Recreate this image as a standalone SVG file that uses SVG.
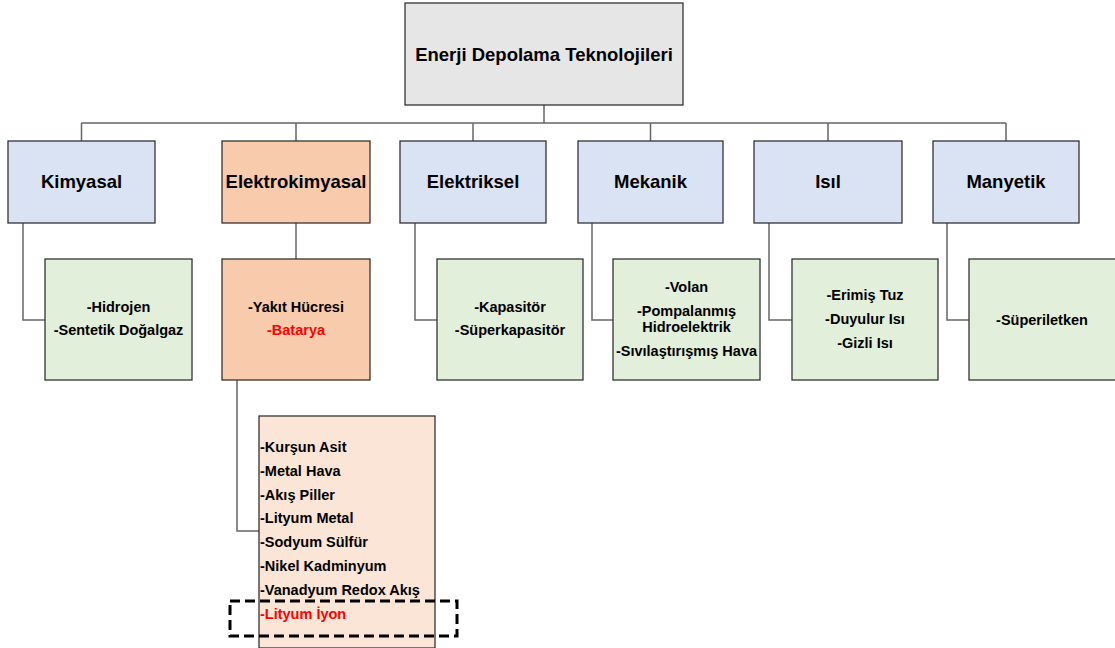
<svg xmlns="http://www.w3.org/2000/svg" width="1115" height="648" viewBox="0 0 1115 648">
<style>
.box{stroke:#333;stroke-width:1.3}
.root{fill:#e6e6e6}
.blue{fill:#dae3f3}
.orange{fill:#f8cbad}
.green{fill:#e2efda}
.peach{fill:#fbe5d6}
.conn{fill:none;stroke:#666;stroke-width:1.5}
text{font-family:"Liberation Sans",Arial,sans-serif;font-weight:bold;fill:#000}
.t1{font-size:18.5px;text-anchor:middle}
.t2{font-size:14.5px;text-anchor:middle}
.t3{font-size:14.5px}
.red{fill:#ff0000}
</style>
<rect width="1115" height="648" fill="#ffffff"/>
<g id="connectors">
<path class="conn" d="M544,105 V123 M81.5,123 H1006 M81.5,123 V141 M296,123 V141 M473,123 V141 M650.5,123 V141 M828,123 V141 M1006,123 V141"/>
<path class="conn" d="M23,223 V320 H45 M296,223 V259 M415,223 V320 H437 M592,223 V320 H613 M769,223 V320 H792 M947,223 V320 H969"/>
<path class="conn" d="M237,380 V531 H259"/>
</g>
<g id="root">
<rect class="box root" x="405" y="3" width="278" height="102"/>
<text class="t1" x="544" y="61">Enerji Depolama Teknolojileri</text>
</g>
<g id="kimyasal">
<rect class="box blue" x="8" y="141" width="147" height="82"/>
<text class="t1" x="81.5" y="188">Kimyasal</text>
</g>
<g id="elektrokimyasal">
<rect class="box orange" x="222" y="141" width="148" height="82"/>
<text class="t1" x="296" y="188">Elektrokimyasal</text>
</g>
<g id="elektriksel">
<rect class="box blue" x="400" y="141" width="146" height="82"/>
<text class="t1" x="473" y="188">Elektriksel</text>
</g>
<g id="mekanik">
<rect class="box blue" x="578" y="141" width="145" height="82"/>
<text class="t1" x="650.5" y="188">Mekanik</text>
</g>
<g id="isil">
<rect class="box blue" x="754" y="141" width="148" height="82"/>
<text class="t1" x="828" y="188">Isıl</text>
</g>
<g id="manyetik">
<rect class="box blue" x="933" y="141" width="146" height="82"/>
<text class="t1" x="1006" y="188">Manyetik</text>
</g>
<g id="kimyasal-list">
<rect class="box green" x="45" y="259" width="147" height="121"/>
<text class="t2" x="118.5" y="312">-Hidrojen</text>
<text class="t2" x="118.5" y="335">-Sentetik Doğalgaz</text>
</g>
<g id="elektrokimyasal-list">
<rect class="box orange" x="222" y="259" width="148" height="121"/>
<text class="t2" x="296" y="312">-Yakıt Hücresi</text>
<text class="t2 red" x="296" y="335">-Batarya</text>
</g>
<g id="elektriksel-list">
<rect class="box green" x="437" y="259" width="146" height="121"/>
<text class="t2" x="510" y="312">-Kapasitör</text>
<text class="t2" x="510" y="335">-Süperkapasitör</text>
</g>
<g id="mekanik-list">
<rect class="box green" x="613" y="259" width="147" height="121"/>
<text class="t2" x="686.5" y="292">-Volan</text>
<text class="t2" x="686.5" y="316">-Pompalanmış</text>
<text class="t2" x="686.5" y="332">Hidroelektrik</text>
<text class="t2" x="686.5" y="356">-Sıvılaştırışmış Hava</text>
</g>
<g id="isil-list">
<rect class="box green" x="792" y="259" width="146" height="121"/>
<text class="t2" x="865" y="300">-Erimiş Tuz</text>
<text class="t2" x="865" y="324">-Duyulur Isı</text>
<text class="t2" x="865" y="348">-Gizli Isı</text>
</g>
<g id="manyetik-list">
<rect class="box green" x="969" y="259" width="148" height="121"/>
<text class="t2" x="1042" y="325">-Süperiletken</text>
</g>
<g id="batarya-list">
<rect class="box peach" x="259" y="416" width="176" height="232"/>
<text class="t3" x="260" y="452">-Kurşun Asit</text>
<text class="t3" x="260" y="476">-Metal Hava</text>
<text class="t3" x="260" y="500">-Akış Piller</text>
<text class="t3" x="260" y="523">-Lityum Metal</text>
<text class="t3" x="260" y="547">-Sodyum Sülfür</text>
<text class="t3" x="260" y="571">-Nikel Kadminyum</text>
<text class="t3" x="260" y="595">-Vanadyum Redox Akış</text>
<text class="t3 red" x="260" y="619">-Lityum İyon</text>
</g>
<g id="highlight">
<rect x="230" y="601" width="227" height="35" fill="none" stroke="#000" stroke-width="3" stroke-dasharray="10,5"/>
</g>
</svg>
